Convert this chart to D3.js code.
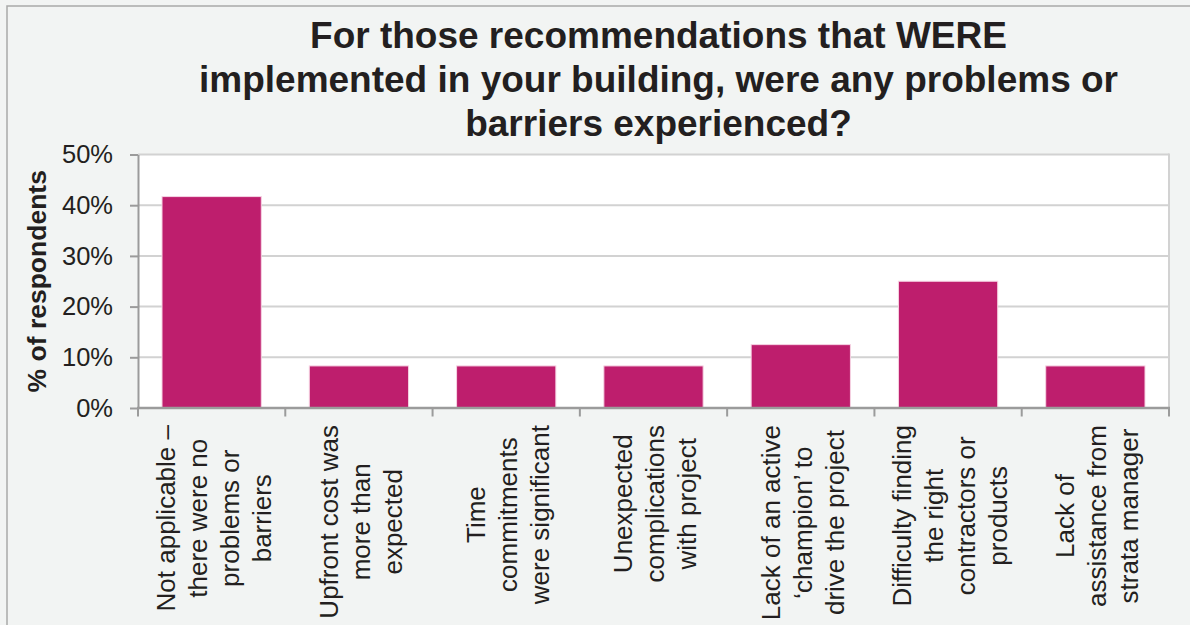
<!DOCTYPE html>
<html>
<head>
<meta charset="utf-8">
<script src="https://cdn.jsdelivr.net/npm/d3@7"></script>
<style>
  html, body { margin: 0; padding: 0; background: #f2f4f3; }
  svg { display: block; font-family: "Liberation Sans", Arial, Helvetica, sans-serif; }
</style>
</head>
<body>
<svg id="chart" width="1190" height="625"></svg>
<script>
// Chart content
const titleLines = [
  "For those recommendations that WERE",
  "implemented in your building, were any problems or",
  "barriers experienced?"
];
const yAxisTitle = "% of respondents";

// Each category label, already broken into its display lines
const categories = [
  ["Not applicable –", "there were no", "problems or", "barriers"],
  ["Upfront cost was", "more than", "expected"],
  ["Time", "commitments", "were significant"],
  ["Unexpected", "complications", "with project"],
  ["Lack of an active", "‘champion’ to", "drive the project"],
  ["Difficulty finding", "the right", "contractors or", "products"],
  ["Lack of", "assistance from", "strata manager"]
];
const values = [41.7, 8.3, 8.3, 8.3, 12.5, 25.0, 8.3];
const yTicks = [0, 10, 20, 30, 40, 50];

// Layout
const W = 1190, H = 625;
const plot = { left: 138, right: 1169, top: 154.5, bottom: 408 };
const textColor = "#231f20";
const barColor = "#be1e6d";
const axisColor = "#9b9b9b";
const gridColor = "#d2d2d2";

const svg = d3.select("#chart");

// Outer chart frame
svg.append("rect")
  .attr("x", 7).attr("y", 6)
  .attr("width", W + 20).attr("height", H + 20)
  .attr("fill", "#f2f4f3")
  .attr("stroke", "#a9a9a9").attr("stroke-width", 1.5);

const y = d3.scaleLinear().domain([0, 50]).range([plot.bottom, plot.top]);
const x = d3.scaleBand()
  .domain(d3.range(categories.length))
  .range([plot.left, plot.right])
  .paddingInner(0.326)
  .paddingOuter(0.163);
const step = x.step();

// Plot area background
svg.append("rect")
  .attr("x", plot.left).attr("y", plot.top)
  .attr("width", plot.right - plot.left).attr("height", plot.bottom - plot.top)
  .attr("fill", "#ffffff");

// Horizontal gridlines
svg.append("g")
  .selectAll("line")
  .data(yTicks.filter(d => d > 0))
  .join("line")
  .attr("x1", plot.left).attr("x2", plot.right)
  .attr("y1", d => y(d)).attr("y2", d => y(d))
  .attr("stroke", gridColor).attr("stroke-width", 2);

// Right edge of the plot area
svg.append("line")
  .attr("x1", plot.right).attr("x2", plot.right)
  .attr("y1", plot.top - 1).attr("y2", plot.bottom)
  .attr("stroke", gridColor).attr("stroke-width", 2);

// Bars
svg.append("g")
  .selectAll("rect")
  .data(values)
  .join("rect")
  .attr("x", (d, i) => x(i))
  .attr("y", d => y(d))
  .attr("width", x.bandwidth())
  .attr("height", d => y(0) - y(d))
  .attr("fill", barColor)
  .attr("stroke", "#f6d3e3").attr("stroke-width", 1);

// Y axis
const yAxis = svg.append("g")
  .attr("transform", `translate(${plot.left},0)`)
  .call(d3.axisLeft(y)
    .tickValues(yTicks)
    .tickFormat(d => d + "%")
    .tickSize(8)
    .tickSizeOuter(0)
    .tickPadding(17));
yAxis.select(".domain").attr("stroke", axisColor).attr("stroke-width", 2);
yAxis.selectAll(".tick line").attr("stroke", axisColor).attr("stroke-width", 2);
yAxis.selectAll(".tick text")
  .attr("fill", textColor)
  .style("font-size", "25.5px")
  .style("font-family", "\"Liberation Sans\", Arial, sans-serif");

// X axis line with ticks on category boundaries
const xAxis = svg.append("g");
xAxis.append("line")
  .attr("x1", plot.left - 1).attr("x2", plot.right + 1)
  .attr("y1", y(0)).attr("y2", y(0))
  .attr("stroke", axisColor).attr("stroke-width", 2.5);
const boundaries = d3.range(categories.length + 1).map(i => plot.left + i * step);
xAxis.selectAll("line.tick")
  .data(boundaries)
  .join("line")
  .attr("class", "tick")
  .attr("x1", d => d).attr("x2", d => d)
  .attr("y1", y(0)).attr("y2", y(0) + 8.5)
  .attr("stroke", axisColor).attr("stroke-width", 2);

// Rotated, centred multi-line category labels
const labelTop = 425;
const lineH = 32;
categories.forEach((lines, i) => {
  const cx = x(i) + x.bandwidth() / 2 + 1.5;
  const g = svg.append("g")
    .attr("transform", `translate(${cx},${labelTop}) rotate(-90)`);
  const t = g.append("text")
    .attr("fill", textColor)
    .style("font-size", "26px")
    .attr("text-anchor", "middle");
  const spans = lines.map((ln, k) =>
    t.append("tspan")
      .attr("y", (k - (lines.length - 1) / 2) * lineH)
      .attr("dy", "0.36em")
      .text(ln));
  const maxLen = d3.max(spans, s => s.node().getComputedTextLength());
  spans.forEach(s => s.attr("x", -maxLen / 2));
});

// Y axis title
svg.append("text")
  .attr("transform", `translate(46,${(plot.top + plot.bottom) / 2}) rotate(-90)`)
  .attr("text-anchor", "middle")
  .attr("fill", textColor)
  .style("font-size", "26.5px")
  .style("font-weight", "bold")
  .text(yAxisTitle);

// Chart title
const title = svg.append("text")
  .attr("text-anchor", "middle")
  .attr("fill", textColor)
  .style("font-size", "37px")
  .style("font-weight", "bold");
titleLines.forEach((ln, k) => {
  title.append("tspan")
    .attr("x", 658.5)
    .attr("y", 48.3 + k * 43.8)
    .text(ln);
});
</script>
</body>
</html>
